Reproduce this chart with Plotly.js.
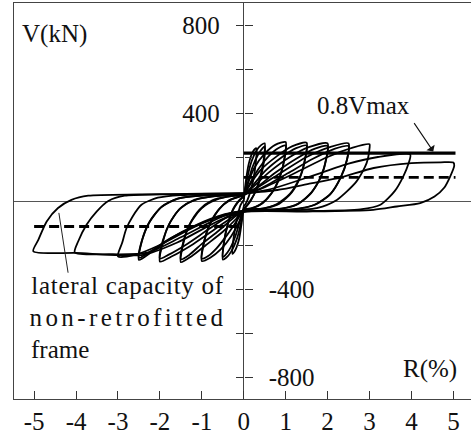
<!DOCTYPE html>
<html>
<head>
<meta charset="utf-8">
<script src="https://cdn.plot.ly/plotly-3.0.1.min.js"></script>
<style>
html,body{margin:0;padding:0;background:#fff;}
#chart{width:471px;height:436px;}
</style>
</head>
<body>
<div id="chart"></div>
<script>
// ---- hysteresis cycles: drift ratio R (%) and shear V (kN) ----
const c025R = [0, 0.05, 0.12, 0.22, 0.30, 0.29, 0.22, 0.12, 0.04, 0, -0.05, -0.12, -0.22, -0.27, -0.25, -0.17, -0.08, 0];
const c025V = [0, 90, 170, 225, 240, 180, 90, 20, -15, -25, -100, -180, -230, -240, -180, -90, -20, 5];

const c05R = [0, 0.06, 0.16, 0.30, 0.42, 0.50, 0.49, 0.43, 0.32, 0.18, 0.05, 0, -0.06, -0.16, -0.30, -0.42, -0.50, -0.48, -0.40, -0.28, -0.14, -0.03, 0];
const c05V = [10, 80, 165, 228, 255, 262, 210, 140, 65, 5, -28, -35, -95, -170, -230, -258, -266, -200, -120, -50, -5, 15, 20];
const c05bR = [0, 0.08, 0.20, 0.34, 0.45, 0.50, 0.49, 0.42, 0.30, 0.15, 0.03, 0, -0.08, -0.20, -0.34, -0.45, -0.50, -0.47, -0.38, -0.25, -0.10, 0];
const c05bV = [20, 70, 150, 210, 240, 248, 190, 120, 50, 0, -30, -36, -85, -160, -220, -248, -255, -185, -105, -35, 5, 22];

const c10R = [0, 0.08, 0.25, 0.50, 0.75, 1.00, 0.98, 0.88, 0.70, 0.45, 0.20, 0, -0.10, -0.30, -0.55, -0.80, -1.00, -0.96, -0.83, -0.62, -0.38, -0.15, 0];
const c10V = [20, 70, 150, 215, 255, 268, 205, 120, 45, -10, -33, -40, -90, -160, -220, -258, -273, -200, -115, -45, 0, 18, 24];
const c10bR = [0, 0.12, 0.35, 0.60, 0.82, 1.00, 0.97, 0.86, 0.66, 0.40, 0.15, 0, -0.15, -0.40, -0.65, -0.85, -1.00, -0.95, -0.80, -0.58, -0.32, -0.10, 0];
const c10bV = [24, 70, 145, 205, 240, 252, 190, 110, 35, -15, -35, -40, -85, -155, -215, -250, -262, -185, -100, -35, 5, 20, 25];

const c15R = [0, 0.12, 0.40, 0.80, 1.15, 1.50, 1.47, 1.36, 1.15, 0.85, 0.50, 0, -0.15, -0.50, -0.90, -1.25, -1.50, -1.45, -1.30, -1.06, -0.75, -0.40, 0];
const c15V = [24, 65, 140, 205, 248, 265, 200, 115, 40, -12, -33, -42, -75, -140, -200, -252, -278, -200, -110, -40, 3, 20, 27];
const c15bR = [0, 0.18, 0.50, 0.90, 1.25, 1.50, 1.46, 1.33, 1.10, 0.78, 0.40, 0, -0.20, -0.60, -1.00, -1.30, -1.50, -1.44, -1.27, -1.00, -0.65, -0.30, 0];
const c15bV = [26, 62, 135, 198, 240, 252, 188, 105, 32, -15, -36, -43, -70, -135, -195, -245, -265, -185, -100, -32, 6, 22, 28];

const c20R = [0, 0.20, 0.60, 1.10, 1.55, 2.00, 1.97, 1.85, 1.62, 1.30, 0.90, 0.40, 0, -0.25, -0.70, -1.20, -1.70, -2.00, -1.94, -1.78, -1.52, -1.18, -0.70, 0];
const c20V = [27, 60, 130, 200, 245, 262, 195, 115, 40, -12, -35, -42, -44, -70, -130, -195, -250, -275, -195, -105, -35, 5, 22, 29];
const c20bR = [0, 0.28, 0.75, 1.25, 1.70, 2.00, 1.96, 1.83, 1.58, 1.25, 0.80, 0, -0.35, -0.85, -1.35, -1.80, -2.00, -1.93, -1.75, -1.48, -1.10, -0.60, 0];
const c20bV = [28, 58, 128, 192, 238, 250, 185, 105, 30, -18, -37, -44, -68, -130, -195, -245, -262, -180, -95, -28, 8, 23, 30];

const c25R = [0, 0.30, 0.90, 1.50, 2.05, 2.50, 2.47, 2.33, 2.08, 1.72, 1.25, 0.50, 0, -0.30, -1.00, -1.70, -2.20, -2.50, -2.44, -2.26, -1.98, -1.60, -1.00, 0];
const c25V = [29, 58, 130, 200, 245, 262, 195, 115, 35, -15, -36, -44, -45, -55, -100, -165, -232, -268, -190, -100, -30, 10, 25, 31];
const c25bR = [0, 0.40, 1.05, 1.65, 2.15, 2.50, 2.46, 2.31, 2.05, 1.68, 1.20, 0, -0.45, -1.15, -1.80, -2.25, -2.50, -2.43, -2.24, -1.95, -1.55, -0.90, 0];
const c25bV = [30, 56, 126, 192, 236, 250, 185, 105, 28, -18, -38, -45, -60, -110, -175, -232, -258, -180, -92, -25, 12, 26, 32];

const c30R = [0, 0.40, 1.20, 2.00, 2.60, 3.00, 3.00, 2.93, 2.69, 2.22, 1.74, 1.00, 0, -0.40, -1.20, -2.00, -2.60, -3.00, -2.90, -2.80, -2.65, -2.44, -2.05, -1.50, 0];
const c30V = [31, 55, 125, 200, 243, 258, 240, 172, 89, 5, -32, -44, -46, -60, -120, -200, -245, -252, -190, -125, -70, -17, 15, 27, 33];

const c40R = [0, 0.60, 1.60, 2.50, 3.20, 3.97, 3.93, 3.80, 3.60, 3.26, 2.78, 1.50, 0, -0.50, -1.50, -2.30, -3.20, -4.03, -3.95, -3.75, -3.51, -3.23, -2.84, -2.00, 0];
const c40V = [33, 52, 112, 170, 200, 212, 170, 110, 45, -17, -38, -46, -47, -70, -165, -235, -242, -234, -184, -108, -48, 0, 24, 30, 35];

const c50R = [0, 0.80, 1.60, 2.30, 3.10, 4.00, 4.70, 5.00, 5.02, 4.92, 4.78, 4.55, 4.21, 3.65, 3.09, 1.50, 0, -0.60, -1.60, -2.40, -4.00, -5.02, -4.90, -4.70, -4.43, -4.11, -3.71, -2.50, -1.00, 0];
const c50V = [35, 50, 80, 106, 150, 172, 176, 175, 160, 110, 60, 20, -10, -25, -40, -48, -50, -90, -190, -245, -236, -229, -177, -93, -32, 5, 24, 30, 33, 36];

// ---- reference levels ----
const vLimitR = [0, 5.05];          // 0.8Vmax line extent
const vLimitV = [218, 218];         // 0.8Vmax (kN)
const capPosR = [0, 5.05];
const capPosV = [107, 107];         // lateral capacity of non-retrofitted frame (+)
const capNegR = [-5.0, 0];
const capNegV = [-116, -116];       // lateral capacity of non-retrofitted frame (-)

// ---- ticks ----
const xTickVals = [-5, -4, -3, -2, -1, 0, 1, 2, 3, 4, 5];
const xTickText = ['-5', '-4', '-3', '-2', '-1', '0', '1', '2', '3', '4', '5'];
const yTickVals = [-800, -600, -400, -200, 200, 400, 600, 800];
const yTickTextPos = ['', '', '', '', '', '400', '', '800'];
const yTickTextNeg = ['-800', '', '-400', '', '', '', '', ''];

const FONT = 'Liberation Serif, Times New Roman, serif';
const cycles = [[c025R, c025V], [c05R, c05V], [c05bR, c05bV], [c10R, c10V], [c10bR, c10bV],
                [c15R, c15V], [c15bR, c15bV], [c20R, c20V], [c20bR, c20bV],
                [c25R, c25V], [c25bR, c25bV], [c30R, c30V], [c40R, c40V], [c50R, c50V]];

const traces = cycles.map(c => ({
  x: c[0], y: c[1], type: 'scatter', mode: 'lines',
  line: {color: '#000', width: 1.8, shape: 'spline', smoothing: 0.7},
  hoverinfo: 'skip', showlegend: false
}));
traces.push({x: vLimitR, y: vLimitV, type: 'scatter', mode: 'lines',
  line: {color: '#000', width: 3.2}, showlegend: false, hoverinfo: 'skip'});
traces.push({x: capPosR, y: capPosV, type: 'scatter', mode: 'lines',
  line: {color: '#000', width: 2.8, dash: '10px,5px'}, showlegend: false, hoverinfo: 'skip'});
traces.push({x: capNegR, y: capNegV, type: 'scatter', mode: 'lines',
  line: {color: '#000', width: 2.8, dash: '10px,5px'}, showlegend: false, hoverinfo: 'skip'});
// carriers so the two tick axes on R = 0 are drawn
traces.push({x: [0], y: [0], yaxis: 'y2', type: 'scatter', mode: 'lines', showlegend: false, hoverinfo: 'skip'});
traces.push({x: [0], y: [0], yaxis: 'y3', type: 'scatter', mode: 'lines', showlegend: false, hoverinfo: 'skip'});

const xr = [-5.48, 5.42];
const zeroPos = (0 - xr[0]) / (xr[1] - xr[0]);
const axisCommon = {range: [-900, 900], overlaying: 'y', anchor: 'free', position: zeroPos,
  showgrid: false, zeroline: false, showline: false, ticks: 'outside', ticklen: 8,
  tickwidth: 1, tickcolor: '#333', tickmode: 'array', tickvals: yTickVals,
  tickfont: {family: FONT, size: 25, color: '#111'}, ticklabelstandoff: 11, fixedrange: true};

const layout = {
  width: 471, height: 436,
  margin: {l: 14, r: 0, t: 3, b: 37, pad: 0},
  paper_bgcolor: '#fff', plot_bgcolor: '#fff',
  showlegend: false,
  xaxis: {range: xr, showgrid: false, zeroline: true, zerolinecolor: '#444', zerolinewidth: 1,
    showline: true, mirror: true, linecolor: '#444', linewidth: 1,
    ticks: 'inside', ticklen: 8, tickcolor: '#333', tickwidth: 1,
    tickmode: 'array', tickvals: xTickVals, ticktext: xTickText,
    tickfont: {family: FONT, size: 25, color: '#111'}, ticklabelstandoff: 0, fixedrange: true},
  yaxis: {range: [-900, 900], showgrid: false, zeroline: true, zerolinecolor: '#555', zerolinewidth: 1,
    showline: true, linecolor: '#444', linewidth: 1, ticks: '', showticklabels: false, fixedrange: true},
  yaxis2: Object.assign({}, axisCommon, {side: 'left', ticktext: yTickTextPos}),
  yaxis3: Object.assign({}, axisCommon, {side: 'right', ticktext: yTickTextNeg}),
  shapes: [
    {type: 'line', xref: 'x', yref: 'y', x0: -4.19, y0: -326, x1: -4.41, y1: -54,
     line: {color: '#222', width: 1}}
  ],
  annotations: [
    {text: 'V(kN)', x: -5.33, y: 759, xref: 'x', yref: 'y', xanchor: 'left', yanchor: 'middle',
     showarrow: false, font: {family: FONT, size: 25, color: '#111'}},
    {text: 'R(%)', x: 3.74, y: -763, xref: 'x', yref: 'y', xanchor: 'left', yanchor: 'middle',
     showarrow: false, font: {family: FONT, size: 25, color: '#111'}},
    {text: '0.8Vmax', x: 1.71, y: 433, xref: 'x', yref: 'y', xanchor: 'left', yanchor: 'middle',
     showarrow: false, font: {family: FONT, size: 25, color: '#111'}},
    {text: '', x: 4.52, y: 225, ax: 4.04, ay: 361, xref: 'x', yref: 'y', axref: 'x', ayref: 'y',
     showarrow: true, arrowhead: 1, arrowsize: 1.5, arrowwidth: 1.1, arrowcolor: '#111'},
    {text: 'lateral capacity of', x: -2.75, y: -383, xref: 'x', yref: 'y', xanchor: 'center', yanchor: 'middle',
     showarrow: false, font: {family: FONT, size: 25, color: '#111'}},
    {text: 'non-retrofitted', x: -2.75, y: -529, xref: 'x', yref: 'y', xanchor: 'center', yanchor: 'middle',
     showarrow: false, font: {family: FONT, size: 25, color: '#111'}},
    {text: 'frame', x: -5.12, y: -676, xref: 'x', yref: 'y', xanchor: 'left', yanchor: 'middle',
     showarrow: false, font: {family: FONT, size: 25, color: '#111'}}
  ]
};

Plotly.newPlot('chart', traces, layout, {staticPlot: true, displayModeBar: false}).then(() => {
  document.querySelectorAll('text.annotation-text').forEach(t => {
    if (t.textContent === 'non-retrofitted') t.style.letterSpacing = '3.4px';
    if (t.textContent === 'lateral capacity of') t.style.letterSpacing = '0.7px';
  });
});
</script>
</body>
</html>
